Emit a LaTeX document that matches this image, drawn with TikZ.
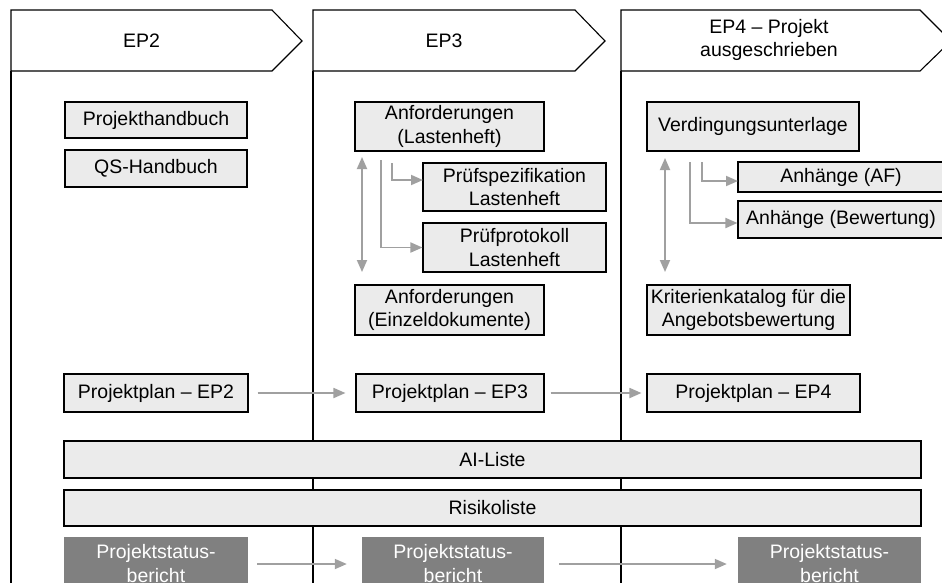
\documentclass[tikz,border=0pt]{standalone}
\usepackage{fontspec}
\setmainfont{Liberation Sans}
\usetikzlibrary{arrows.meta,calc}
\definecolor{boxfill}{HTML}{EBEBEB}
\definecolor{darkbox}{HTML}{808080}
\definecolor{arrgray}{HTML}{A0A0A0}
\begin{document}
\begin{tikzpicture}[x=1pt,y=-1pt,
  every node/.style={font=\fontsize{19.5}{23.5}\selectfont},
  doc/.style={draw=black, line width=1.1pt, fill=boxfill, inner sep=0pt, align=center, text=black},
  status/.style={fill=darkbox, inner sep=0pt, align=center, text=white},
  head/.style={draw=black, line width=1.1pt, fill=white},
  colline/.style={draw=black, line width=1.1pt},
  flow/.style={draw=arrgray, line width=1.8pt, -{Triangle[length=12pt,width=10pt]}},
  twoway/.style={draw=arrgray, line width=1.8pt, {Triangle[length=12pt,width=10pt]}-{Triangle[length=12pt,width=10pt]}}
]
\useasboundingbox (0,0) rectangle (942,582);
\clip (0,0) rectangle (942,582);
\fill[white] (0,0) rectangle (942,582);

% column lines
\draw[colline] (11,71) -- (11,590);
\draw[colline] (313,71) -- (313,590);
\draw[colline] (621,71) -- (621,590);

% headers
\draw[head] (11,10) -- (272,10) -- (302,41) -- (272,71) -- (11,71) -- cycle;
\draw[head] (313,10) -- (575,10) -- (605,41) -- (575,71) -- (313,71) -- cycle;
\draw[head] (621,10) -- (920,10) -- (951,41) -- (920,71) -- (621,71) -- cycle;
\node (h1) at (141.5,41) {EP2};
\node (h2) at (444,41) {EP3};
\node[align=center] (h3) at (769,40) {EP4 -- Projekt\\ausgeschrieben};

% column 1
\node[doc, minimum width=182, minimum height=36] (ph) at (156,120) {Projekthandbuch};
\node[doc, minimum width=182, minimum height=37] (qs) at (156,168.5) {QS-Handbuch};

% column 2
\node[doc, minimum width=189, minimum height=49] (anfL) at (449.5,126.5) {Anforderungen\\(Lastenheft)};
\node[doc, minimum width=183, minimum height=48] (pruefS) at (514.5,187) {Prüfspezifikation\\Lastenheft};
\node[doc, minimum width=183, minimum height=49] (pruefP) at (514.5,247.5) {Prüfprotokoll\\Lastenheft};
\node[doc, minimum width=189, minimum height=50] (anfE) at (449.5,310) {Anforderungen\\(Einzeldokumente)};

% column 3
\node[doc, minimum width=212, minimum height=49] (verd) at (753,126.5) {Verdingungsunterlage};
\node[doc, minimum width=206, minimum height=30] (anhAF) at (841,177) {Anhänge (AF)};
\node[doc, minimum width=206, minimum height=37] (anhB) at (841,219.5) {Anhänge (Bewertung)};
\node[doc, minimum width=203, minimum height=50] (krit) at (748.5,310) {Kriterienkatalog für die\\Angebotsbewertung};

% project plans
\node[doc, minimum width=184, minimum height=38] (pp2) at (156,393) {Projektplan -- EP2};
\node[doc, minimum width=188, minimum height=38] (pp3) at (450,393) {Projektplan -- EP3};
\node[doc, minimum width=213, minimum height=38] (pp4) at (753.5,393) {Projektplan -- EP4};

% lists
\node[doc, minimum width=857, minimum height=37] (ai) at (492.5,459.5) {AI-Liste};
\node[doc, minimum width=857, minimum height=36] (risk) at (492.5,508) {Risikoliste};

% status reports
\node[status, minimum width=184, minimum height=53] (st1) at (156,563.5) {Projektstatus-\\bericht};
\node[status, minimum width=182, minimum height=53] (st2) at (453,563.5) {Projektstatus-\\bericht};
\node[status, minimum width=183, minimum height=53] (st3) at (829.5,563.5) {Projektstatus-\\bericht};

% coordinates for connectors
\coordinate (c2top) at (362,157);
\coordinate (c2bot) at (362,272);
\coordinate (c2a) at (392,163);
\coordinate (c2ae) at (423,180);
\coordinate (c2b) at (381,160);
\coordinate (c3top) at (665,158);
\coordinate (c3bot) at (665,272);
\coordinate (c3a) at (702,162);
\coordinate (c3ae) at (738,181);
\coordinate (c3b) at (690,162);

% connectors column 2
\draw[twoway] (c2top) -- (c2bot);
\draw[flow] (c2a) |- (c2ae);
\draw[flow] (c2b) |- (pruefP.west);

% connectors column 3
\draw[twoway] (c3top) -- (c3bot);
\draw[flow] (c3a) |- (c3ae);
\draw[flow] (c3b) |- ($(anhB.west)+(0,3.5)$);

% plan arrows
\draw[flow, shorten <=9pt, shorten >=10pt] (pp2) -- (pp3);
\draw[flow, shorten <=6pt, shorten >=5pt] (pp3) -- (pp4);

% status arrows
\draw[flow, shorten <=9pt, shorten >=15pt] ([yshift=-0.5pt]st1.east) -- ([yshift=-0.5pt]st2.west);
\draw[flow, shorten <=15pt, shorten >=11pt] ([yshift=-0.5pt]st2.east) -- ([yshift=-0.5pt]st3.west);
\end{tikzpicture}
\end{document}
